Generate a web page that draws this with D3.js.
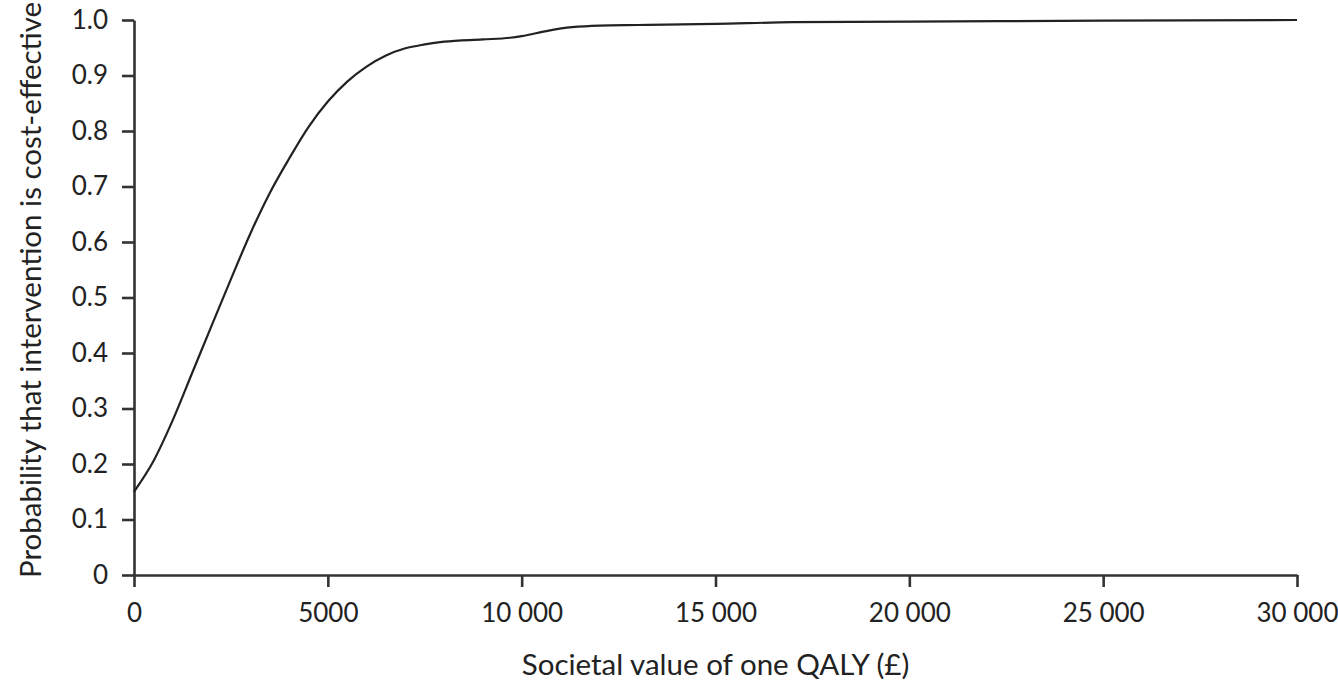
<!DOCTYPE html>
<html>
<head>
<meta charset="utf-8">
<script src="https://cdn.jsdelivr.net/npm/d3@7"></script>
<style>
  html, body { margin: 0; padding: 0; background: #fff; }
  svg { display: block; }
  .tick text, .lbl { font-family: Lato, "Open Sans", sans-serif; fill: #222; }
</style>
</head>
<body>
<svg id="chart" width="1338" height="686"></svg>
<script>
// Data
const valuesGBP = [0, 500, 1000, 1500, 2000, 2500, 3000, 3500, 4000, 4500, 5000, 5500, 6000, 6500, 7000, 7500, 8000, 9000, 9700, 10000, 10700, 11300, 12000, 13000, 15000, 17000, 20000, 25000, 30000];
const probCE   = [0.15, 0.205, 0.279, 0.364, 0.449, 0.533, 0.615, 0.688, 0.75, 0.807, 0.853, 0.889, 0.916, 0.936, 0.949, 0.956, 0.961, 0.965, 0.968, 0.971, 0.981, 0.987, 0.990, 0.991, 0.993, 0.996, 0.997, 0.999, 1.0];
const xTicks = [0, 5000, 10000, 15000, 20000, 25000, 30000];
const yTicks = [0, 0.1, 0.2, 0.3, 0.4, 0.5, 0.6, 0.7, 0.8, 0.9, 1.0];
const xTitle = "Societal value of one QALY (£)";
const yTitle = "Probability that intervention is cost-effective";

const svg = d3.select("#chart");
const margin = { left: 134, right: 1338 - 1297, top: 20, bottom: 686 - 575 };
const W = 1338, H = 686;

const x = d3.scaleLinear().domain([0, 30000]).range([margin.left, W - margin.right]);
const y = d3.scaleLinear().domain([0, 1]).range([H - margin.bottom, margin.top]);

const fmtX = v => v >= 10000 ? d3.format(",")(v).replace(/,/g, " ") : String(v);
const fmtY = v => v === 0 ? "0" : d3.format(".1f")(v);

const FS_TICK = 26;
const FS_TITLE = 29.5;
const axisColor = "#333";

const gx = svg.append("g")
  .attr("transform", `translate(0,${y(0)})`)
  .call(d3.axisBottom(x).tickValues(xTicks).tickFormat(fmtX).tickSize(12).tickSizeOuter(0).tickPadding(17));
const gy = svg.append("g")
  .attr("transform", `translate(${x(0)},0)`)
  .call(d3.axisLeft(y).tickValues(yTicks).tickFormat(fmtY).tickSize(12).tickSizeOuter(0).tickPadding(14));

[gx, gy].forEach(g => {
  g.select(".domain").attr("stroke", axisColor).attr("stroke-width", 2.6);
  g.selectAll(".tick line").attr("stroke", axisColor).attr("stroke-width", 2.6);
  g.selectAll(".tick text").attr("font-size", FS_TICK).attr("fill", "#222");
});

// Curve
const data = valuesGBP.map((v, i) => ({ v, p: probCE[i] }));
svg.append("path")
  .datum(data)
  .attr("fill", "none")
  .attr("stroke", "#222")
  .attr("stroke-width", 2.2)
  .attr("d", d3.line().x(d => x(d.v)).y(d => y(d.p)).curve(d3.curveMonotoneX));

// Axis titles
svg.append("text")
  .attr("class", "lbl")
  .attr("x", (x(0) + x(30000)) / 2)
  .attr("y", 675)
  .attr("text-anchor", "middle")
  .attr("font-size", FS_TITLE)
  .text(xTitle);

svg.append("text")
  .attr("class", "lbl")
  .attr("transform", `translate(41,578) rotate(-90)`)
  .attr("text-anchor", "start")
  .attr("font-size", FS_TITLE)
  .text(yTitle);
</script>
</body>
</html>
